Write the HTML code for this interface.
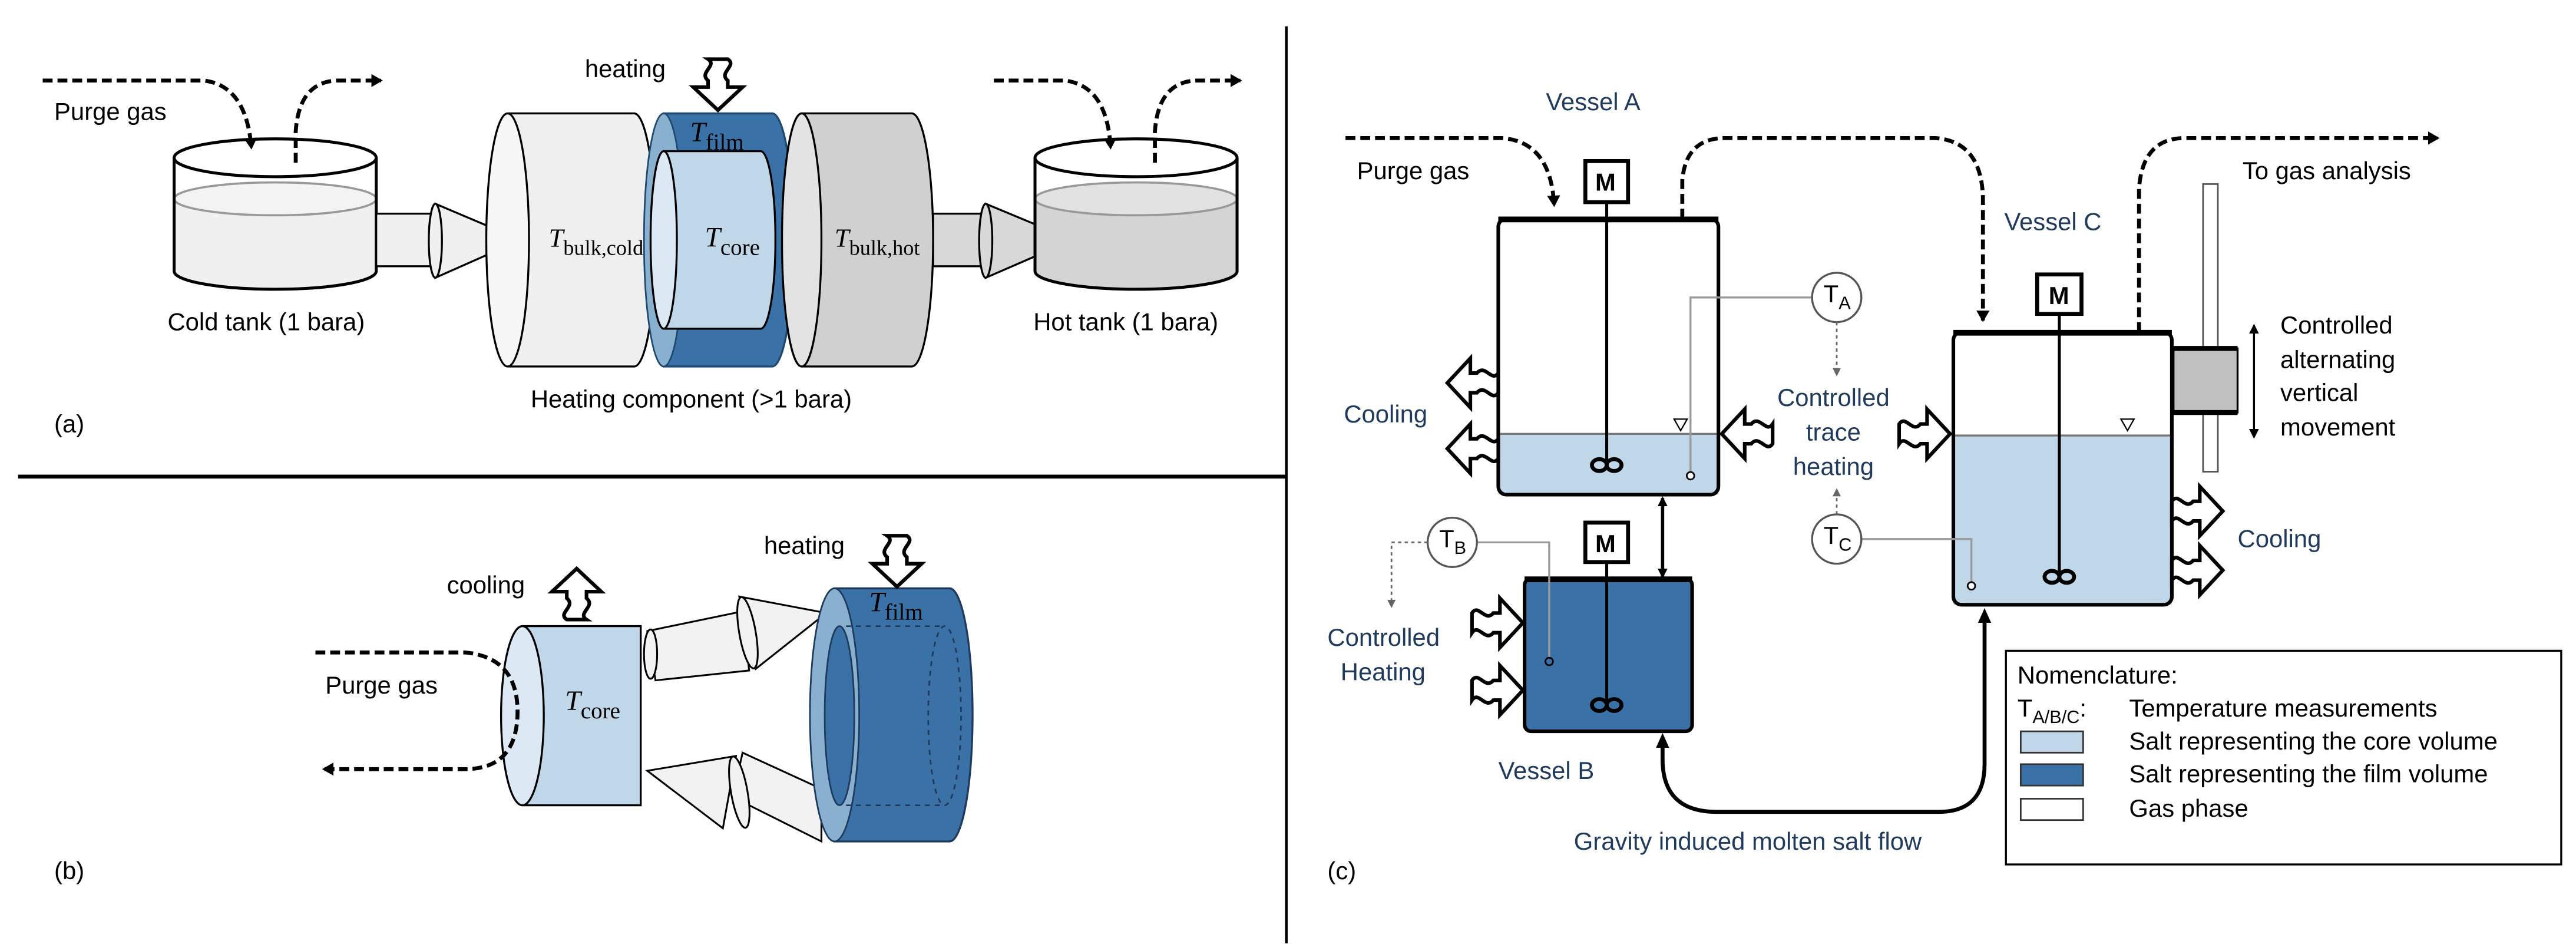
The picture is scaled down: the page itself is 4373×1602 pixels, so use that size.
<!DOCTYPE html>
<html><head><meta charset="utf-8"><style>
html,body{margin:0;padding:0;background:#fff}
svg{display:block}
text{font-family:"Liberation Sans",Arial,sans-serif;font-size:15px;fill:#000}
.b{fill:#1f3a5c}
.m{font-family:"Liberation Serif",serif;font-size:17px}
.mi{font-style:italic}
.s{font-size:12px}
</style></head><body>
<svg width="4373" height="1602" viewBox="0 0 1568 574.4" xmlns="http://www.w3.org/2000/svg">
<defs>
<marker id="ah" markerWidth="8" markerHeight="8" refX="6" refY="4" orient="auto" markerUnits="userSpaceOnUse">
<path d="M0,0 L7,4 L0,8 Z" fill="#000"/></marker>
<marker id="ahs" markerWidth="6" markerHeight="6" refX="5" refY="3" orient="auto-start-reverse" markerUnits="userSpaceOnUse">
<path d="M0,0 L6,3 L0,6 Z" fill="#000"/></marker>
<marker id="ahg" markerWidth="5" markerHeight="5" refX="4" refY="2.5" orient="auto" markerUnits="userSpaceOnUse">
<path d="M0,0 L5,2.5 L0,5 Z" fill="#666"/></marker>
<path id="ha" d="M0,-6 C4,-12 8,0 13,-6 L17,-6 L17,-15 L31,0 L17,15 L17,6 L13,6 C8,12 4,0 0,6 Z" fill="#fff" stroke="#000" stroke-width="2.2" stroke-linejoin="miter"/>
<g id="imp"><ellipse cx="-4.5" cy="0" rx="4.5" ry="3.6" fill="none" stroke="#000" stroke-width="2.4"/><ellipse cx="4.5" cy="0" rx="4.5" ry="3.6" fill="none" stroke="#000" stroke-width="2.4"/></g>
</defs>

<!-- dividers -->
<line x1="783" y1="16" x2="783" y2="574" stroke="#000" stroke-width="1.6"/>
<line x1="11" y1="290" x2="783" y2="290" stroke="#000" stroke-width="2.4"/>

<!-- ============ (a) ============ -->
<g fill="none" stroke="#000" stroke-width="2.4" stroke-dasharray="6,3">
<path d="M26,49 L124,49 Q150,52 153,90" marker-end="url(#ah)"/>
<path d="M180,99 L180,80 Q182,50 205,49 L232,49" marker-end="url(#ah)"/>
<path d="M605,49 L648,49 Q674,52 676,90" marker-end="url(#ah)"/>
<path d="M703,99 L703,80 Q705,50 728,49 L755,49" marker-end="url(#ah)"/>
</g>
<text x="33" y="73">Purge gas</text>
<!-- cold tank -->
<path d="M106,121 L106,165 A61.5,11 0 0 0 229,165 L229,121 Z" fill="#f0f0f0"/>
<ellipse cx="167.5" cy="121" rx="61.5" ry="10" fill="#f3f3f3" stroke="#999" stroke-width="1.3"/>
<path d="M106,96 L106,165 A61.5,11 0 0 0 229,165 L229,96" fill="none" stroke="#000" stroke-width="1.8"/>
<ellipse cx="167.5" cy="96" rx="61.5" ry="11.5" fill="none" stroke="#000" stroke-width="1.8"/>
<!-- pipe+cone -->
<rect x="229" y="130" width="36" height="32" fill="#f0f0f0" stroke="#000" stroke-width="1.2"/>
<path d="M265,124 L317,146 L265,169 Z" fill="#f0f0f0" stroke="#000" stroke-width="1.2"/>
<ellipse cx="265" cy="146.5" rx="4" ry="22.5" fill="#f0f0f0" stroke="#000" stroke-width="1.2"/>
<text x="102" y="201">Cold tank (1 bara)</text>
<!-- bulk cold -->
<path d="M310,69 L386,69 A13,77 0 0 1 386,223 L310,223 Z" fill="#efefef" stroke="#000" stroke-width="1.2"/>
<ellipse cx="309" cy="146" rx="13" ry="77" fill="#f7f7f7" stroke="#000" stroke-width="1.2"/>
<!-- film -->
<path d="M404,69 L470,69 A13,77 0 0 1 470,223 L404,223 Z" fill="#3a72a8" stroke="#1f4a70" stroke-width="1.2"/>
<ellipse cx="404" cy="146" rx="12" ry="77" fill="#8ab0d0" stroke="#1f4a70" stroke-width="1"/>
<path d="M404,92 L463,92 A9,54 0 0 1 463,200 L404,200 Z" fill="#c0d7ea" stroke="#000" stroke-width="1.2"/>
<ellipse cx="404" cy="146" rx="8" ry="54" fill="#dce8f4" stroke="#000" stroke-width="1.2"/>
<text x="334" y="150" class="m" style="font-size:16px"><tspan class="mi">T</tspan><tspan dy="5" style="font-size:13px">bulk,cold</tspan></text>
<text x="420" y="86" class="m"><tspan class="mi">T</tspan><tspan dy="5" style="font-size:14px">film</tspan></text>
<text x="429" y="150" class="m"><tspan class="mi">T</tspan><tspan dy="5" style="font-size:14px">core</tspan></text>
<!-- bulk hot -->
<path d="M488,69 L555,69 A13,77 0 0 1 555,223 L488,223 Z" fill="#d0d0d0" stroke="#000" stroke-width="1.2"/>
<ellipse cx="488" cy="146" rx="12" ry="77" fill="#e3e3e3" stroke="#000" stroke-width="1.2"/>
<text x="508" y="150" class="m" style="font-size:16px"><tspan class="mi">T</tspan><tspan dy="5" style="font-size:13px">bulk,hot</tspan></text>
<rect x="568" y="130" width="33" height="32" fill="#d8d8d8" stroke="#000" stroke-width="1.2"/>
<path d="M600,124 L653,146 L600,169 Z" fill="#d8d8d8" stroke="#000" stroke-width="1.2"/>
<ellipse cx="600" cy="146.5" rx="4" ry="22.5" fill="#d8d8d8" stroke="#000" stroke-width="1.2"/>
<!-- hot tank -->
<path d="M630,121 L630,165 A61.5,11 0 0 0 753,165 L753,121 Z" fill="#d4d4d4"/>
<ellipse cx="691.5" cy="121" rx="61.5" ry="10" fill="#e2e2e2" stroke="#999" stroke-width="1.3"/>
<path d="M630,96 L630,165 A61.5,11 0 0 0 753,165 L753,96" fill="none" stroke="#000" stroke-width="1.8"/>
<ellipse cx="691.5" cy="96" rx="61.5" ry="11.5" fill="none" stroke="#000" stroke-width="1.8"/>
<text x="629" y="201">Hot tank (1 bara)</text>
<text x="356" y="47">heating</text>
<use href="#ha" transform="translate(437,36) rotate(90)"/>
<text x="323" y="248">Heating component (&gt;1 bara)</text>
<text x="33" y="263">(a)</text>

<!-- ============ (b) ============ -->
<text x="272" y="361">cooling</text>
<use href="#ha" transform="translate(351,377) rotate(-90)"/>
<path d="M318,381 L390,381 L390,490 L318,490 Z" fill="#c0d7ea" stroke="#000" stroke-width="1.2"/>
<ellipse cx="318" cy="435.5" rx="13" ry="54.5" fill="#dce8f4" stroke="#000" stroke-width="1.2"/>
<text x="344" y="432" class="m"><tspan class="mi">T</tspan><tspan dy="5" style="font-size:14px">core</tspan></text>
<path d="M192,397 L283,397 Q316,400 315,435 Q314,468 283,468 L197,468" fill="none" stroke="#000" stroke-width="2.4" stroke-dasharray="6,3" marker-end="url(#ah)"/>
<text x="198" y="422">Purge gas</text>
<!-- top arrow -->
<path d="M394,384 L452,372 L456,408 L399,414 Z" fill="#f2f2f2" stroke="#000" stroke-width="1.1"/>
<ellipse cx="396" cy="398" rx="4" ry="15" fill="#f2f2f2" stroke="#000" stroke-width="1.1"/>
<path d="M450,363 L503,373 L460,407 Z" fill="#f2f2f2" stroke="#000" stroke-width="1.1"/>
<ellipse cx="455" cy="385" rx="5" ry="22" transform="rotate(-10 455 385)" fill="#f2f2f2" stroke="#000" stroke-width="1.1"/>
<!-- bottom arrow -->
<path d="M500,480 L500,512 L446,485 L452,458 Z" fill="#f2f2f2" stroke="#000" stroke-width="1.1"/>
<path d="M394,469 L448,460 L440,504 Z" fill="#f2f2f2" stroke="#000" stroke-width="1.1"/>
<ellipse cx="450" cy="482" rx="5" ry="22" transform="rotate(-10 450 482)" fill="#f2f2f2" stroke="#000" stroke-width="1.1"/>
<!-- film ring b -->
<path d="M508,358 L578,358 A14,77 0 0 1 578,512 L508,512 Z" fill="#3a72a8" stroke="#1f3a5c" stroke-width="1.2"/>
<ellipse cx="508" cy="435" rx="15" ry="77" fill="#8ab0d0" stroke="#1f3a5c" stroke-width="1"/>
<ellipse cx="511" cy="435.5" rx="9" ry="54.5" fill="#3a72a8" stroke="#1f3a5c" stroke-width="1"/>
<g fill="none" stroke="#1f3a5c" stroke-width="1" stroke-dasharray="3,3">
<line x1="515" y1="381" x2="575" y2="381"/><line x1="515" y1="490" x2="575" y2="490"/>
<ellipse cx="575" cy="435.5" rx="10" ry="54.5"/></g>
<text x="529" y="372" class="m"><tspan class="mi">T</tspan><tspan dy="5" style="font-size:14px">film</tspan></text>
<text x="465" y="337">heating</text>
<use href="#ha" transform="translate(546,326) rotate(90)"/>
<text x="33" y="535">(b)</text>

<!-- ============ (c) ============ -->
<g fill="none" stroke="#000" stroke-width="2.4" stroke-dasharray="6,3">
<path d="M819,84 L914,84 Q944,86 946,125" marker-end="url(#ah)"/>
<path d="M1024,133 L1024,110 Q1026,84 1050,84 L1178,84 Q1206,86 1207,120 L1207,195" marker-end="url(#ah)"/>
<path d="M1302,202 L1302,115 Q1304,84 1330,84 L1484,84" marker-end="url(#ah)"/>
</g>
<text x="941" y="67" class="b">Vessel A</text>
<text x="826" y="109">Purge gas</text>
<text x="1365" y="109">To gas analysis</text>
<text x="1220" y="140" class="b">Vessel C</text>
<!-- Vessel A -->
<rect x="912" y="264" width="134" height="37" fill="#c0d7ea"/>
<line x1="912" y1="264" x2="1046" y2="264" stroke="#777" stroke-width="1.2"/>
<rect x="912" y="133" width="134" height="168" rx="5" fill="none" stroke="#000" stroke-width="2.2"/>
<line x1="912" y1="133.5" x2="1046" y2="133.5" stroke="#000" stroke-width="3.5"/>
<rect x="965" y="98" width="26" height="25" fill="#fff" stroke="#000" stroke-width="2.4"/>
<text x="971" y="116" style="font-weight:bold;font-size:15px">M</text>
<line x1="978" y1="123" x2="978" y2="282" stroke="#000" stroke-width="1.8"/>
<use href="#imp" transform="translate(978,283)"/>
<path d="M1019,255 L1027,255 L1023,262 Z" fill="none" stroke="#000" stroke-width="0.8"/>
<path d="M1103,181 L1029,181 L1029,287" fill="none" stroke="#999" stroke-width="1.2"/>
<circle cx="1029" cy="289.5" r="2.3" fill="#fff" stroke="#000" stroke-width="1"/>
<circle cx="1118" cy="181" r="15" fill="#fff" stroke="#555" stroke-width="1.2"/>
<text x="1110" y="184" style="font-size:15px">T<tspan dy="4" style="font-size:11px">A</tspan></text>
<line x1="1118" y1="196" x2="1118" y2="228" stroke="#666" stroke-width="1" stroke-dasharray="2,2" marker-end="url(#ahg)"/>
<text x="1116" y="247" text-anchor="middle" class="b">Controlled</text>
<text x="1116" y="268" text-anchor="middle" class="b">trace</text>
<text x="1116" y="289" text-anchor="middle" class="b">heating</text>
<use href="#ha" transform="translate(1079,264) rotate(180)"/>
<use href="#ha" transform="translate(1156,264)"/>
<use href="#ha" transform="translate(912,233) rotate(180)"/>
<use href="#ha" transform="translate(912,273) rotate(180)"/>
<text x="818" y="257" class="b">Cooling</text>
<!-- Vessel C -->
<rect x="1189" y="265" width="133" height="103" fill="#c0d7ea"/>
<line x1="1189" y1="265" x2="1322" y2="265" stroke="#777" stroke-width="1.2"/>
<rect x="1189" y="202" width="133" height="166" rx="5" fill="none" stroke="#000" stroke-width="2.2"/>
<line x1="1189" y1="202.5" x2="1322" y2="202.5" stroke="#000" stroke-width="3.5"/>
<rect x="1240" y="167" width="27" height="24" fill="#fff" stroke="#000" stroke-width="2.4"/>
<text x="1247" y="185" style="font-weight:bold;font-size:15px">M</text>
<line x1="1253.5" y1="191" x2="1253.5" y2="350" stroke="#000" stroke-width="1.8"/>
<use href="#imp" transform="translate(1253.5,351)"/>
<path d="M1291,255 L1299,255 L1295,262 Z" fill="none" stroke="#000" stroke-width="0.8"/>
<path d="M1133,328 L1200,328 L1200,354" fill="none" stroke="#999" stroke-width="1.2"/>
<circle cx="1200" cy="356.5" r="2.3" fill="#fff" stroke="#000" stroke-width="1"/>
<circle cx="1118" cy="328" r="15" fill="#fff" stroke="#555" stroke-width="1.2"/>
<text x="1110" y="331" style="font-size:15px">T<tspan dy="4" style="font-size:11px">C</tspan></text>
<line x1="1118" y1="313" x2="1118" y2="298" stroke="#666" stroke-width="1" stroke-dasharray="2,2" marker-end="url(#ahg)"/>
<rect x="1341" y="112" width="9" height="175" fill="#fff" stroke="#555" stroke-width="1"/>
<rect x="1323" y="212" width="39" height="39" fill="#c0c0c0" stroke="#000" stroke-width="1.2"/>
<line x1="1323" y1="212" x2="1362" y2="212" stroke="#000" stroke-width="3"/>
<line x1="1323" y1="251" x2="1362" y2="251" stroke="#000" stroke-width="3"/>
<line x1="1372" y1="198" x2="1372" y2="266" stroke="#000" stroke-width="1.2" marker-start="url(#ahs)" marker-end="url(#ahs)"/>
<text x="1388" y="203">Controlled</text>
<text x="1388" y="224">alternating</text>
<text x="1388" y="244">vertical</text>
<text x="1388" y="265">movement</text>
<use href="#ha" transform="translate(1322,311)"/>
<use href="#ha" transform="translate(1322,347)"/>
<text x="1362" y="333" class="b">Cooling</text>
<!-- Vessel B -->
<line x1="1012" y1="303" x2="1012" y2="351" stroke="#000" stroke-width="2" marker-start="url(#ahs)" marker-end="url(#ahs)"/>
<rect x="928" y="352" width="102" height="93" rx="4" fill="#3a72a8" stroke="#000" stroke-width="2.2"/>
<line x1="928" y1="352.5" x2="1030" y2="352.5" stroke="#000" stroke-width="3.5"/>
<rect x="965" y="318" width="26" height="24" fill="#fff" stroke="#000" stroke-width="2.4"/>
<text x="971" y="336" style="font-weight:bold;font-size:15px">M</text>
<line x1="978" y1="342" x2="978" y2="427" stroke="#000" stroke-width="1.8"/>
<use href="#imp" transform="translate(978,429)"/>
<path d="M899,330 L943,330 L943,400" fill="none" stroke="#999" stroke-width="1.2"/>
<circle cx="943" cy="402.5" r="2.3" fill="#3a72a8" stroke="#000" stroke-width="1"/>
<circle cx="884" cy="330" r="15" fill="#fff" stroke="#555" stroke-width="1.2"/>
<text x="876" y="333" style="font-size:15px">T<tspan dy="4" style="font-size:11px">B</tspan></text>
<path d="M869,330 L847,330 L847,369" fill="none" stroke="#666" stroke-width="1" stroke-dasharray="2,2" marker-end="url(#ahg)"/>
<use href="#ha" transform="translate(896,379)"/>
<use href="#ha" transform="translate(896,420)"/>
<text x="808" y="393" class="b">Controlled</text>
<text x="816" y="414" class="b">Heating</text>
<text x="912" y="474" class="b">Vessel B</text>
<path d="M1208,378 L1208,465 Q1208,494 1180,494 L1045,494 Q1012,494 1012,462 L1012,455" fill="none" stroke="#000" stroke-width="2.4"/>
<path d="M1012,446 L1016,455 L1008,455 Z" fill="#000"/>
<path d="M1208,370 L1212,379 L1204,379 Z" fill="#000"/>
<text x="958" y="517" class="b">Gravity induced molten salt flow</text>
<text x="808" y="535">(c)</text>
<!-- legend -->
<rect x="1221" y="396" width="338" height="130" fill="#fff" stroke="#000" stroke-width="1.2"/>
<text x="1228" y="416">Nomenclature:</text>
<text x="1228" y="436">T<tspan dy="4" style="font-size:11px">A/B/C</tspan><tspan dy="-4">:</tspan></text>
<text x="1296" y="436">Temperature measurements</text>
<rect x="1230" y="445" width="38" height="13" fill="#c0d7ea" stroke="#333" stroke-width="1"/>
<text x="1296" y="456">Salt representing the core volume</text>
<rect x="1230" y="465" width="38" height="13" fill="#3a72a8" stroke="#333" stroke-width="1"/>
<text x="1296" y="476">Salt representing the film volume</text>
<rect x="1230" y="486" width="38" height="13" fill="#fff" stroke="#333" stroke-width="1"/>
<text x="1296" y="497">Gas phase</text>
</svg>
</body></html>
